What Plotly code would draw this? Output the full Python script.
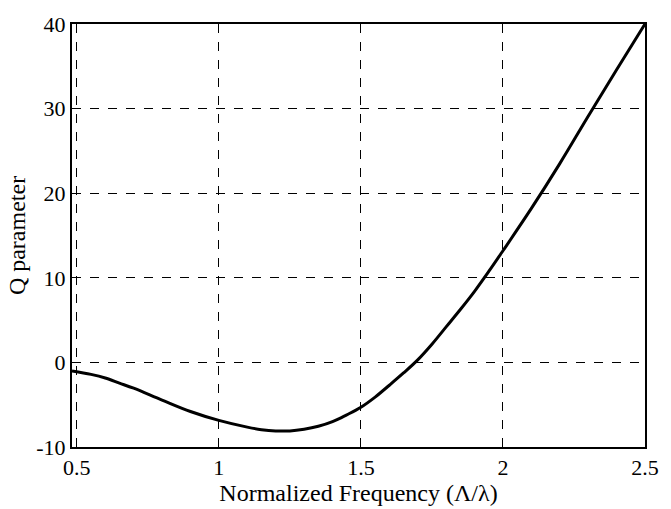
import plotly.graph_objects as go

freq = [0.483, 0.55, 0.6, 0.65, 0.7, 0.8, 0.9, 1.0, 1.1, 1.15, 1.2, 1.25, 1.3, 1.35, 1.4,
        1.45, 1.5, 1.55, 1.6, 1.65, 1.7, 1.75, 1.8, 1.85, 1.9, 1.95, 2.0, 2.1, 2.2,
        2.3, 2.4, 2.5]
q_param = [-1.0, -1.42, -1.85, -2.45, -3.05, -4.45, -5.8, -6.85, -7.65, -7.95, -8.1,
           -8.1, -7.9, -7.55, -7.0, -6.2, -5.3, -4.1, -2.7, -1.25, 0.3, 2.15, 4.2,
           6.25, 8.4, 10.75, 13.2, 18.2, 23.5, 29.1, 34.6, 40.0]
x_ticks = [0.5, 1, 1.5, 2, 2.5]
x_labels = ["0.5", "1", "1.5", "2", "2.5"]
y_ticks = [-10, 0, 10, 20, 30, 40]
y_labels = ["-10", "0", "10", "20", "30", "40"]

fig = go.Figure()
fig.add_trace(go.Scatter(x=freq, y=q_param, mode="lines",
                         line=dict(color="black", width=3, shape="spline", smoothing=1.0),
                         showlegend=False))

font = dict(family="Liberation Serif", size=22, color="black")
tfont = dict(family="Liberation Serif", size=24, color="black")
fig.update_layout(
    width=671, height=509,
    margin=dict(l=72, r=18, t=20, b=60),
    paper_bgcolor="white", plot_bgcolor="white",
    font=font,
)
fig.update_xaxes(
    range=[0.483, 2.5], tickvals=x_ticks, ticktext=x_labels,
    showgrid=True, gridcolor="black", griddash="dash", gridwidth=1,
    showline=True, linecolor="black", linewidth=2, mirror=True,
    ticks="inside", ticklen=4, tickcolor="black",
    zeroline=False,
    title=dict(text="Normalized Frequency (Λ/λ)", standoff=0, font=tfont),
    tickfont=font,
)
fig.update_yaxes(
    range=[-10, 40], tickvals=y_ticks, ticktext=y_labels,
    showgrid=True, gridcolor="black", griddash="dash", gridwidth=1,
    showline=True, linecolor="black", linewidth=2, mirror=True,
    ticks="inside", ticklen=4, tickcolor="black",
    zeroline=False,
    title=dict(text="Q parameter", standoff=4, font=tfont),
    tickfont=font,
)
fig.write_html("out.html")
